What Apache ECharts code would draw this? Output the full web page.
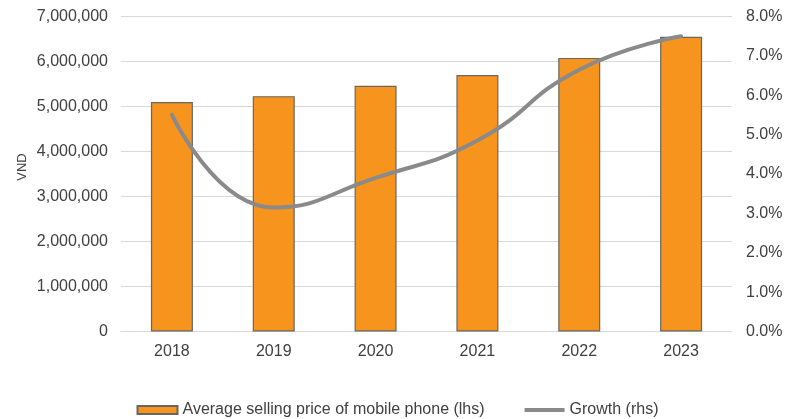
<!DOCTYPE html>
<html>
<head>
<meta charset="utf-8">
<script src="https://cdn.jsdelivr.net/npm/echarts@6/dist/echarts.min.js"></script>
<style>
  html, body { margin: 0; padding: 0; background: #ffffff; }
  #chart { width: 795px; height: 419px; }
</style>
</head>
<body>
<div id="chart"></div>
<script>
// Years on the category axis
const years = ['2018', '2019', '2020', '2021', '2022', '2023'];
// Average selling price of mobile phones, VND (left axis)
const avgPrice = [5100000, 5230000, 5460000, 5700000, 6080000, 6550000];
// Year-on-year growth, percent (right axis)
const growth = [5.5, 3.15, 3.9, 4.85, 6.65, 7.5];

const priceName = 'Average selling price of mobile phone (lhs)';
const growthName = 'Growth (rhs)';
const FONT = 'Arial, "Liberation Sans", sans-serif';
const TEXT = '#404040';
const LINE = '#8a8a8a';

const chart = echarts.init(document.getElementById('chart'), null, { renderer: 'canvas' });

chart.setOption({
  animation: false,
  backgroundColor: '#ffffff',
  textStyle: { fontFamily: FONT, color: TEXT },
  grid: { left: 121, right: 63, top: 16.5, bottom: 87.5 },
  legend: {
    top: 397,
    left: 'center',
    itemWidth: 40,
    itemHeight: 8,
    itemGap: 40,
    textStyle: { fontFamily: FONT, fontSize: 16, color: TEXT },
    data: [
      { name: priceName, icon: 'rect' },
      // thin bar centred in the 8px-high icon box: a plain line swatch
      { name: growthName, icon: 'path://M0,0M0,8M0,2L40,2L40,6L0,6Z', itemStyle: { color: LINE } }
    ]
  },
  xAxis: {
    type: 'category',
    data: years,
    axisLine: { show: true, lineStyle: { color: '#d9d9d9', width: 1 } },
    axisTick: { show: false },
    axisLabel: { fontFamily: FONT, fontSize: 16, color: TEXT, margin: 12 }
  },
  yAxis: [
    {
      type: 'value',
      min: 0,
      max: 7000000,
      interval: 1000000,
      name: 'VND',
      nameLocation: 'middle',
      nameGap: 92,
      nameRotate: 90,
      nameMoveOverlap: false,
      nameTextStyle: { fontFamily: FONT, fontSize: 13, color: TEXT, padding: [0, 0, 0, 14] },
      axisLine: { show: false },
      axisTick: { show: false },
      axisLabel: {
        fontFamily: FONT, fontSize: 16, color: TEXT, margin: 13,
        formatter: v => v.toLocaleString('en-US')
      },
      splitLine: { show: true, lineStyle: { color: '#d9d9d9', width: 1 } }
    },
    {
      type: 'value',
      min: 0,
      max: 8,
      interval: 1,
      position: 'right',
      axisLine: { show: false },
      axisTick: { show: false },
      axisLabel: {
        fontFamily: FONT, fontSize: 16, color: TEXT, margin: 14,
        formatter: v => v.toFixed(1) + '%'
      },
      splitLine: { show: false }
    }
  ],
  series: [
    {
      name: priceName,
      type: 'bar',
      yAxisIndex: 0,
      data: avgPrice,
      barWidth: 42,
      itemStyle: { color: '#F7941D', borderColor: '#666666', borderWidth: 1.2 }
    },
    {
      name: growthName,
      type: 'line',
      yAxisIndex: 1,
      data: growth,
      smooth: 0.5,
      symbol: 'none',
      showSymbol: false,
      lineStyle: { color: LINE, width: 4, cap: 'round' },
      itemStyle: { color: LINE },
      z: 3
    }
  ]
});
</script>
</body>
</html>
